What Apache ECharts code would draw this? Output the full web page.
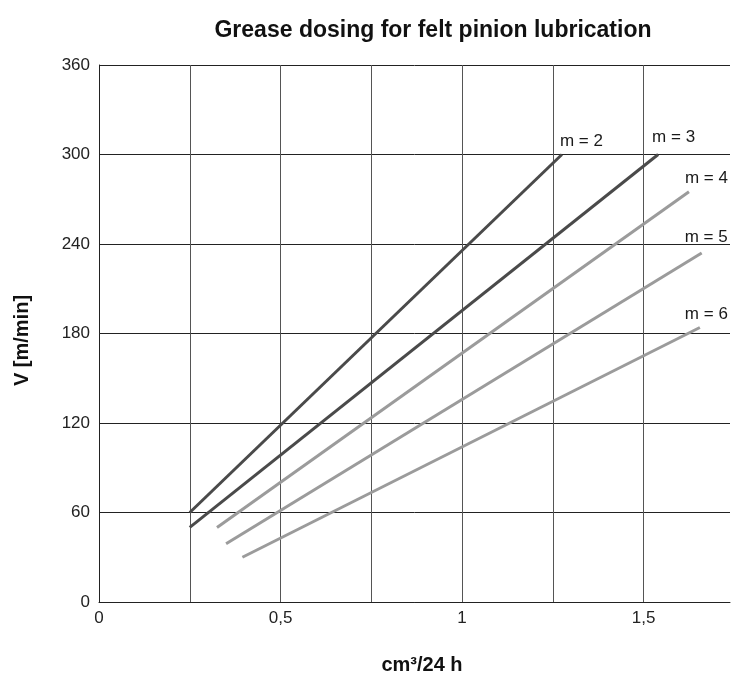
<!DOCTYPE html>
<html>
<head>
<meta charset="utf-8">
<script src="https://cdn.jsdelivr.net/npm/echarts@6/dist/echarts.min.js"></script>
<style>
  html, body { margin: 0; padding: 0; background: #fff; }
  #chart { width: 734px; height: 680px; }
</style>
</head>
<body>
<div id="chart"></div>
<script>
// Grease dosing lines per gear module m: [cm3/24 h, V m/min] at each end
const moduleNames = ['m = 2', 'm = 3', 'm = 4', 'm = 5', 'm = 6'];
const lineM2 = [[0.25, 60], [1.275, 300]];
const lineM3 = [[0.25, 50], [1.54, 300]];
const lineM4 = [[0.325, 50], [1.625, 275]];
const lineM5 = [[0.35, 39], [1.66, 234]];
const lineM6 = [[0.395, 30], [1.655, 184]];
const seriesData = [lineM2, lineM3, lineM4, lineM5, lineM6];

// Styling per line
const lineColors = ['#4a4a4a', '#4a4a4a', '#9b9b9b', '#9b9b9b', '#9b9b9b'];
const endLabelOffsets = [[-2, -13], [-6, -17], [-4, -13], [-17, -16], [-15, -13]];

const FONT = '"Liberation Sans", Arial, Helvetica, sans-serif';

const chart = echarts.init(document.getElementById('chart'), null, { renderer: 'canvas' });

const series = seriesData.map((pts, i) => ({
  name: moduleNames[i],
  type: 'line',
  data: pts,
  symbol: 'none',
  silent: true,
  lineStyle: { color: lineColors[i], width: 3 },
  endLabel: {
    show: true,
    formatter: moduleNames[i],
    color: '#1a1a1a',
    fontFamily: FONT,
    fontSize: 17,
    align: 'left',
    verticalAlign: 'middle',
    distance: 0,
    offset: endLabelOffsets[i]
  }
}));

chart.setOption({
  animation: false,
  backgroundColor: '#ffffff',
  title: {
    text: 'Grease dosing for felt pinion lubrication',
    left: 428,
    top: 14,
    textAlign: 'center',
    textStyle: { fontFamily: FONT, fontSize: 23, fontWeight: 'bold', color: '#111' }
  },
  grid: { left: 99, top: 65, width: 631, height: 544 },
  xAxis: {
    type: 'value',
    min: 0,
    max: 1.738,
    interval: 0.25,
    name: 'cm³/24 h',
    nameLocation: 'middle',
    nameGap: 53,
    nameTextStyle: { fontFamily: FONT, fontSize: 20, fontWeight: 'bold', color: '#111', padding: [0, 0, 0, 15] },
    axisLine: { show: true, lineStyle: { color: '#222', width: 1 } },
    axisTick: { show: false },
    axisLabel: {
      fontFamily: FONT, fontSize: 17, color: '#222', margin: 8,
      formatter: v => Math.abs(v * 2 - Math.round(v * 2)) < 1e-6 ? String(v).replace('.', ',') : ''
    },
    splitLine: { show: true, showMaxLine: false, lineStyle: { color: '#555', width: 1 } }
  },
  yAxis: {
    type: 'value',
    min: 0,
    max: 360,
    interval: 60,
    name: 'V [m/min]',
    nameLocation: 'middle',
    nameGap: 67,
    nameRotate: 90,
    nameTextStyle: { fontFamily: FONT, fontSize: 20, fontWeight: 'bold', color: '#111', padding: [0, 14, 0, 0] },
    axisLine: { show: true, lineStyle: { color: '#222', width: 1 } },
    axisTick: { show: false },
    axisLabel: { fontFamily: FONT, fontSize: 17, color: '#222', margin: 9 },
    splitLine: { show: true, lineStyle: { color: '#222', width: 1 } }
  },
  series: series
});
</script>
</body>
</html>
